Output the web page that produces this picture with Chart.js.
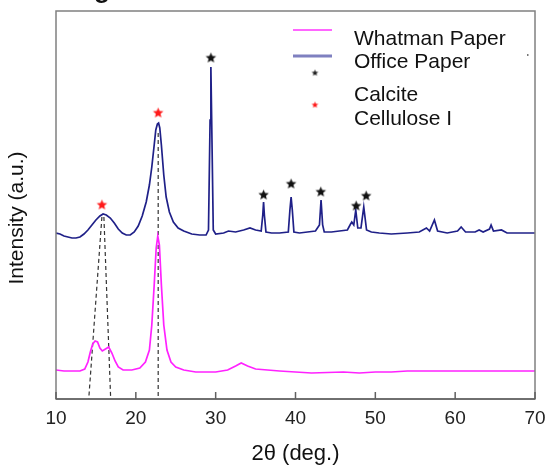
<!DOCTYPE html>
<html lang="en">
<head>
<meta charset="UTF-8">
<title>XRD patterns</title>
<script src="https://cdn.jsdelivr.net/npm/chart.js"></script>
<style>
    html, body { margin: 0; padding: 0; background: #fff; }
    #wrap { width: 548px; height: 468px; }
</style>
</head>
<body>
<div id="wrap"><canvas id="xrd"></canvas></div>
<script>
// 2theta (deg) and intensity (a.u.)
const officeX = [10.0, 10.5, 11.0, 11.5, 12.0, 12.5, 13.0, 13.5, 14.0, 14.5, 15.0, 15.5, 15.9, 16.3, 16.8, 17.3, 17.8, 18.3, 18.8, 19.3, 19.8, 20.3, 20.8, 21.3, 21.7, 22.0, 22.3, 22.5, 22.7, 22.85, 23.0, 23.2, 23.5, 23.8, 24.2, 24.7, 25.3, 26.0, 27.0, 28.0, 28.8, 29.1, 29.3, 29.4, 29.5, 29.7, 30.0, 31.0, 31.6, 32.5, 33.5, 34.3, 35.0, 35.7, 35.9, 36.0, 36.1, 36.3, 37.0, 38.0, 39.1, 39.3, 39.45, 39.6, 39.8, 40.5, 41.5, 42.5, 43.0, 43.2, 43.4, 43.6, 44.5, 45.5, 46.5, 46.9, 47.05, 47.3, 47.55, 47.8, 48.2, 48.55, 48.9, 49.5, 50.5, 52.0, 54.0, 55.5, 56.4, 56.8, 57.4, 57.8, 59.0, 60.3, 60.75, 61.3, 62.5, 63.0, 63.5, 64.3, 64.5, 64.8, 65.8, 66.5, 68.0, 70.0];
const officeY = [166, 165, 163, 162, 161, 161, 162, 165, 169, 174, 179, 183, 185, 184, 181, 176, 170, 166, 164, 164, 167, 173, 183, 197, 214, 232, 254, 269, 275, 276, 271, 254, 224, 202, 187, 177, 171, 168, 165, 164, 164, 169, 279, 332, 279, 169, 165, 166, 168, 167, 169, 171, 169, 168, 184, 197, 184, 167, 166, 166, 167, 189, 202, 189, 167, 166, 167, 168, 174, 199, 174, 167, 167, 168, 169, 175, 177, 174, 189, 171, 171, 192, 169, 167, 166, 165, 166, 167, 171, 168, 179, 168, 166, 168, 172, 167, 167, 169, 167, 170, 174, 168, 169, 166, 166, 166];

const whatmanX = [10.0, 11.0, 12.0, 13.0, 13.6, 14.0, 14.3, 14.6, 14.9, 15.2, 15.5, 15.8, 16.2, 16.6, 17.0, 17.4, 17.8, 18.4, 19.5, 20.5, 21.2, 21.7, 22.0, 22.3, 22.55, 22.75, 22.95, 23.2, 23.5, 23.9, 24.4, 25.0, 26.0, 27.5, 30.0, 31.5, 32.5, 33.2, 34.0, 35.0, 36.5, 38.0, 40.0, 42.0, 44.0, 46.0, 48.0, 50.0, 52.0, 54.0, 56.0, 58.0, 60.0, 62.0, 64.0, 66.0, 68.0, 70.0];
const whatmanY = [29, 28, 28, 28, 30, 37, 47, 55, 58, 57, 51, 48, 50, 52, 46, 38, 32, 29, 29, 31, 37, 49, 74, 114, 151, 163, 154, 114, 74, 49, 37, 32, 29, 27, 27, 29, 33, 36, 33, 30, 29, 28, 27, 26, 26.5, 27, 26, 27, 27, 28, 28, 28, 28, 28, 28, 28, 28, 28];

// peak markers
const calciteX = [29.4, 36.0, 39.45, 43.17, 47.6, 48.85];
const calciteY = [341, 204, 215, 207, 193, 203];
const celluloseX = [15.75, 22.8];
const celluloseY = [194, 286];

// dashed guide lines (start on office pattern, end at axis)
const guideA = [[15.75, 182], [14.1, 0]];
const guideB = [[16.0, 182], [16.85, 0]];
const guideC = [[22.8, 266], [22.8, 0]];

const xTicks = [10, 20, 30, 40, 50, 60, 70];

function pts(xs, ys) {
    return xs.map((x, i) => ({ x: x, y: ys[i] }));
}

function starCanvas(color, r) {
    const c = document.createElement('canvas');
    const s = Math.ceil(r * 2 + 2);
    c.width = s; c.height = s;
    const g = c.getContext('2d');
    g.fillStyle = color;
    g.beginPath();
    for (let i = 0; i < 10; i++) {
        const rad = i % 2 === 0 ? r : r * 0.45;
        const a = -Math.PI / 2 + i * Math.PI / 5;
        const px = s / 2 + rad * Math.cos(a), py = s / 2 + rad * Math.sin(a);
        if (i === 0) g.moveTo(px, py); else g.lineTo(px, py);
    }
    g.closePath();
    g.fill();
    return c;
}

const blackStar = starCanvas('#111', 5.5);
const redStar = starCanvas('#ff1a1a', 5.5);
const blackStarSmall = starCanvas('#222', 3.5);
const redStarSmall = starCanvas('#ff1a1a', 3.5);

const FONT = "Arial, 'Liberation Sans', sans-serif";

// frame, inward ticks, legend and the left title
const decor = {
    id: 'decor',
    afterDraw(chart) {
        const ctx = chart.ctx;
        const a = chart.chartArea;
        const xs = chart.scales.x;
        ctx.save();
        ctx.strokeStyle = '#808080';
        ctx.lineWidth = 1.5;
        ctx.strokeRect(a.left, a.top, a.right - a.left, a.bottom - a.top);
        ctx.strokeStyle = '#606060';
        ctx.beginPath();
        ctx.moveTo(a.left, a.bottom);
        ctx.lineTo(a.right, a.bottom);
        xTicks.forEach(t => {
            const px = xs.getPixelForValue(t);
            ctx.moveTo(px, a.bottom);
            ctx.lineTo(px, a.bottom - 7);
        });
        ctx.stroke();

        // legend
        ctx.lineWidth = 1.5;
        ctx.strokeStyle = '#ff33ff';
        ctx.beginPath(); ctx.moveTo(293, 30); ctx.lineTo(332, 30); ctx.stroke();
        ctx.lineWidth = 3;
        ctx.strokeStyle = '#7f80c0';
        ctx.beginPath(); ctx.moveTo(293, 56); ctx.lineTo(332, 56); ctx.stroke();
        ctx.drawImage(blackStarSmall, 315 - blackStarSmall.width / 2, 73 - blackStarSmall.height / 2);
        ctx.drawImage(redStarSmall, 315 - redStarSmall.width / 2, 105 - redStarSmall.height / 2);
        ctx.fillStyle = '#111';
        ctx.font = '21px ' + FONT;
        ctx.textBaseline = 'alphabetic';
        ctx.textAlign = 'left';
        ctx.fillText('Whatman Paper', 354, 45);
        ctx.fillText('Office Paper', 354, 68);
        ctx.fillText('Calcite', 354, 101);
        ctx.fillText('Cellulose I', 354, 125);
        ctx.fillStyle = '#777';
        ctx.fillRect(527, 54, 1.5, 2);

        // y title
        ctx.fillStyle = '#111';
        ctx.translate(17, 218);
        ctx.rotate(-Math.PI / 2);
        ctx.textAlign = 'center';
        ctx.textBaseline = 'middle';
        ctx.font = '21px ' + FONT;
        ctx.fillText('Intensity (a.u.)', 0, 0);
        ctx.restore();

        // cut-off panel letter at the top
        ctx.save();
        ctx.fillStyle = '#111';
        ctx.font = 'bold 26px ' + FONT;
        ctx.textBaseline = 'alphabetic';
        ctx.fillText('g', 94, -2);
        ctx.restore();
    }
};

const dashed = {
    borderColor: '#333',
    borderWidth: 1.2,
    borderDash: [4, 3],
    pointRadius: 0,
    showLine: true,
    order: 3
};

new Chart(document.getElementById('xrd'), {
    type: 'scatter',
    data: {
        datasets: [
            Object.assign({ label: 'guideA', data: guideA.map(p => ({ x: p[0], y: p[1] })) }, dashed),
            Object.assign({ label: 'guideB', data: guideB.map(p => ({ x: p[0], y: p[1] })) }, dashed),
            Object.assign({ label: 'guideC', data: guideC.map(p => ({ x: p[0], y: p[1] })) }, dashed),
            {
                label: 'Whatman Paper',
                data: pts(whatmanX, whatmanY),
                showLine: true,
                borderColor: '#ff22ff',
                borderWidth: 1.7,
                pointRadius: 0,
                order: 2
            },
            {
                label: 'Office Paper',
                data: pts(officeX, officeY),
                showLine: true,
                borderColor: '#1f2088',
                borderWidth: 1.7,
                pointRadius: 0,
                order: 1
            },
            {
                label: 'Calcite',
                data: pts(calciteX, calciteY),
                pointStyle: blackStar,
                showLine: false,
                order: 0
            },
            {
                label: 'Cellulose I',
                data: pts(celluloseX, celluloseY),
                pointStyle: redStar,
                showLine: false,
                order: 0
            }
        ]
    },
    options: {
        responsive: true,
        maintainAspectRatio: false,
        animation: false,
        layout: { padding: { left: 56, right: 13, top: 11, bottom: 0 } },
        plugins: {
            legend: { display: false },
            tooltip: { enabled: false }
        },
        scales: {
            x: {
                type: 'linear',
                min: 10,
                max: 70,
                afterFit: s => { s.height = 69; s.paddingLeft = 0; s.paddingRight = 0; },
                afterBuildTicks: s => { s.ticks = xTicks.map(v => ({ value: v })); },
                grid: { display: false },
                border: { display: false },
                ticks: {
                    color: '#222',
                    padding: 0,
                    maxRotation: 0,
                    font: { family: FONT, size: 19 }
                },
                title: {
                    display: true,
                    text: '2θ (deg.)',
                    color: '#111',
                    padding: { top: 0, bottom: 1 },
                    font: { family: FONT, size: 22 }
                }
            },
            y: {
                display: false,
                min: 0,
                max: 388
            }
        }
    },
    plugins: [decor]
});
</script>
</body>
</html>
